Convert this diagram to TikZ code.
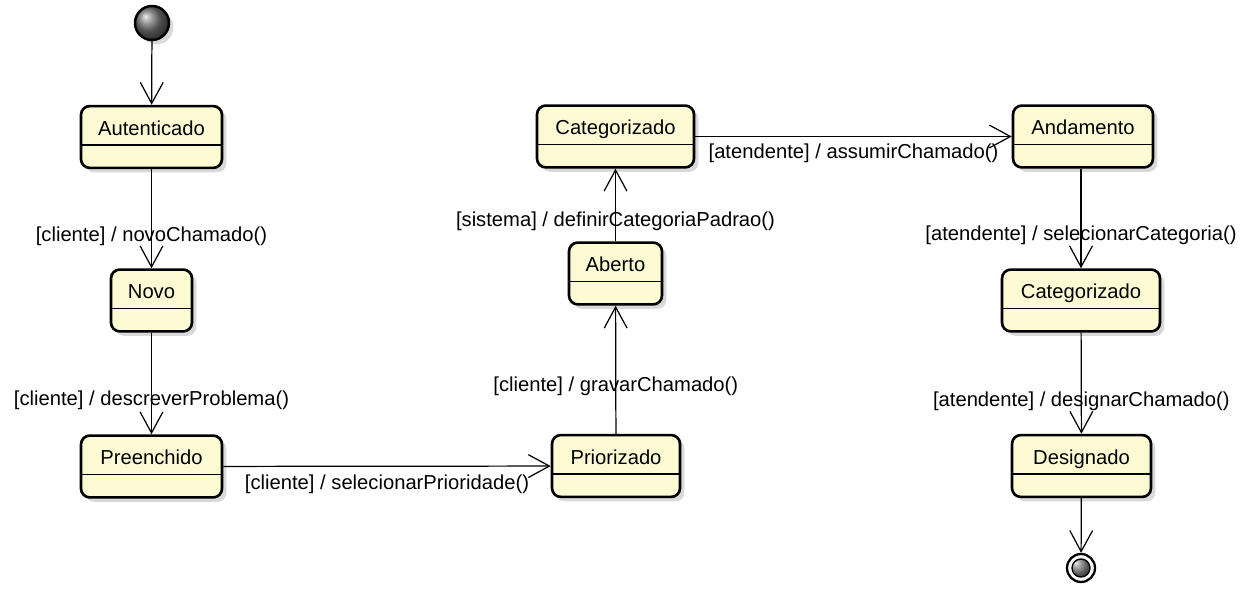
\documentclass[tikz,border=0pt]{standalone}
\usepackage{fontspec}
\setmainfont{Liberation Sans}
\usetikzlibrary{arrows.meta}
\usetikzlibrary{shadows}
\definecolor{stateFill}{HTML}{FCFBD4}

\begin{document}
\begin{tikzpicture}[x=0.02cm, y=-0.02cm, font=\fontsize{11.5}{13}\selectfont,
  state/.style={draw, line width=1.5pt, rounded corners=5pt, fill=stateFill,
    inner xsep=0pt, inner ysep=0pt, text height=16.6pt, text depth=18.6pt,
    drop shadow={shadow xshift=2.5pt, shadow yshift=-2.5pt, opacity=0.25, fill=black!60},
    path picture={\draw[line width=0.7pt] ([yshift=-22.1pt]path picture bounding box.north west)
      -- ([yshift=-22.1pt]path picture bounding box.north east);}},
  trans/.style={line width=0.7pt, -{Straight Barb[length=12pt, width=13pt, line width=0.7pt]}}]
\useasboundingbox (0,0) rectangle (1257,590);

\node[circle, draw, line width=1.4pt, minimum size=0.68cm, inner sep=0pt, ball color=black!55,
  drop shadow={shadow xshift=2.5pt, shadow yshift=-2.5pt, opacity=0.25, fill=black!60}] (ini) at (152,23) {};
\node[circle, draw, line width=1.3pt, minimum size=0.56cm, inner sep=0pt, fill=white,
  path picture={\draw[line width=0.8pt, ball color=black!55] (path picture bounding box.center) circle (0.18cm);}] (fin) at (1081,568) {};

\node[state, minimum width=2.82cm] (aut) at (151.5,137) {Autenticado};
\node[state, minimum width=1.62cm] (novo) at (151.5,300.5) {Novo};
\node[state, minimum width=2.82cm] (pre) at (151.5,466.5) {Preenchido};
\node[state, minimum width=2.56cm] (pri) at (616,466) {Priorizado};
\node[state, minimum width=1.86cm] (abe) at (615.5,273.5) {Aberto};
\node[state, minimum width=3.14cm] (cat) at (615.5,136.5) {Categorizado};
\node[state, minimum width=2.80cm] (and) at (1083,136.5) {Andamento};
\node[state, minimum width=3.16cm] (catb) at (1081,300.5) {Categorizado};
\node[state, minimum width=2.78cm] (des) at (1081.5,466) {Designado};

\draw[trans] (ini) -- (aut);
\draw[trans] (aut) -- node[pos=0.68] {[cliente] / novoChamado()} (novo);
\draw[trans] (novo) -- node[pos=0.67] {[cliente] / descreverProblema()} (pre);
\draw[trans] (pre) -- node[below=1pt] {[cliente] / selecionarPrioridade()} (pri);
\draw[trans] (pri) -- node[pos=0.37] {[cliente] / gravarChamado()} (abe);
\draw[trans] (abe) -- node[pos=0.28] {[sistema] / definirCategoriaPadrao()} (cat);
\draw[trans] (cat) -- node[below=0.5pt] {[atendente] / assumirChamado()} (and);
\draw[trans] (and.south -| catb.north) -- node[pos=0.67] {[atendente] / selecionarCategoria()} (catb);
\draw[trans] (catb) -- node[pos=0.68] {[atendente] / designarChamado()} (des);
\draw[trans] (des) -- (fin);
\end{tikzpicture}
\end{document}
